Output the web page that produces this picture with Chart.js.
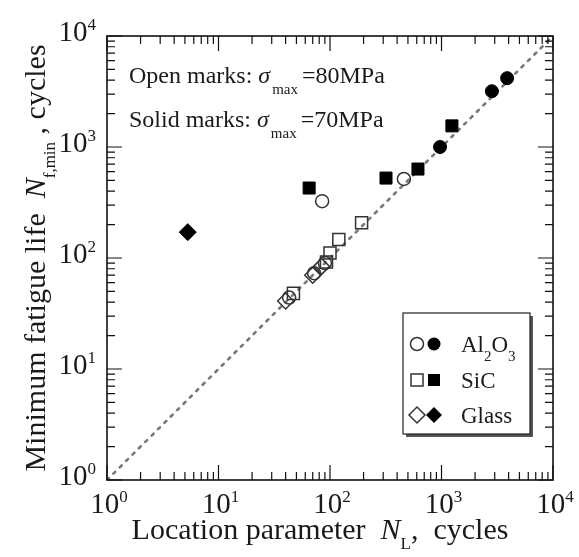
<!DOCTYPE html>
<html>
<head>
<meta charset="utf-8">
<script src="https://cdn.jsdelivr.net/npm/chart.js@4.4.1/dist/chart.umd.min.js"></script>
<style>
html, body { margin: 0; padding: 0; background: #fff; }
</style>
</head>
<body>
<canvas id="myChart" width="579" height="557"></canvas>
<script>
// axis decades (both axes are log, 10^0 .. 10^4)
var decades = [1, 10, 100, 1000, 10000];
var decadeExp = ['0', '1', '2', '3', '4'];

// open marks: sigma_max = 80 MPa
var al2o3Open = [{x: 85, y: 325}, {x: 460, y: 515}, {x: 90, y: 90}, {x: 72, y: 73}, {x: 43, y: 44}];
var sicOpen = [{x: 192, y: 208}, {x: 120, y: 147}, {x: 100, y: 111}, {x: 93, y: 92}, {x: 47, y: 48}];
var glassOpen = [{x: 84, y: 84}, {x: 70, y: 70}, {x: 40, y: 41}];

// solid marks: sigma_max = 70 MPa
var al2o3Solid = [{x: 970, y: 1000}, {x: 2830, y: 3180}, {x: 3880, y: 4170}];
var sicSolid = [{x: 65, y: 427}, {x: 318, y: 525}, {x: 615, y: 633}, {x: 1240, y: 1550}];
var glassSolid = [{x: 5.3, y: 171}];

// N_f,min = N_L line
var equalLine = [{x: 1, y: 1}, {x: 10000, y: 10000}];

var SERIF = '"Liberation Serif", "Times New Roman", serif';

// draw a row of text pieces (font / vertical shift per piece)
function drawRuns(ctx, runs, x, y, align) {
    var total = 0;
    runs.forEach(function (r) {
        ctx.font = r.font;
        r.w = ctx.measureText(r.t).width;
        total += r.w + (r.gap || 0);
    });
    var cx = x;
    if (align === 'center') cx = x - total / 2;
    if (align === 'right') cx = x - total;
    ctx.textAlign = 'left';
    ctx.textBaseline = 'alphabetic';
    runs.forEach(function (r) {
        ctx.font = r.font;
        ctx.fillText(r.t, cx, y + (r.dy || 0));
        cx += r.w + (r.gap || 0);
    });
}

function marker(ctx, style, x, y, filled) {
    ctx.beginPath();
    if (style === 'circle') {
        ctx.arc(x, y, 6.5, 0, Math.PI * 2);
    } else if (style === 'rect') {
        ctx.rect(x - 6, y - 6, 12, 12);
    } else {
        ctx.moveTo(x, y - 8); ctx.lineTo(x + 8, y); ctx.lineTo(x, y + 8); ctx.lineTo(x - 8, y); ctx.closePath();
    }
    if (filled) { ctx.fillStyle = '#000'; ctx.fill(); }
    else { ctx.strokeStyle = '#333'; ctx.lineWidth = 1.5; ctx.stroke(); }
}

var framePlugin = {
    id: 'frame',
    afterDraw: function (chart) {
        var ctx = chart.ctx;
        var a = chart.chartArea;
        var xs = chart.scales.x, ys = chart.scales.y;
        ctx.save();
        ctx.fillStyle = '#1a1a1a';
        ctx.strokeStyle = '#111';

        // frame
        ctx.lineWidth = 1.6;
        ctx.strokeRect(a.left, a.top, a.right - a.left, a.bottom - a.top);

        // inside ticks on all four sides
        ctx.lineWidth = 1.2;
        ctx.beginPath();
        for (var d = 0; d < decades.length; d++) {
            for (var m = 1; m <= 9; m++) {
                var v = decades[d] * m;
                if (v > 10000) break;
                var len = (m === 1) ? 15 : 8;
                var px = xs.getPixelForValue(v);
                var py = ys.getPixelForValue(v);
                ctx.moveTo(px, a.bottom); ctx.lineTo(px, a.bottom - len);
                ctx.moveTo(px, a.top); ctx.lineTo(px, a.top + len);
                ctx.moveTo(a.left, py); ctx.lineTo(a.left + len, py);
                ctx.moveTo(a.right, py); ctx.lineTo(a.right - len, py);
            }
        }
        ctx.stroke();

        // tick labels 10^n
        var big = '29px ' + SERIF, sup = '17px ' + SERIF;
        for (var i = 0; i < decades.length; i++) {
            var tx = xs.getPixelForValue(decades[i]);
            drawRuns(ctx, [{t: '10', font: big}, {t: decadeExp[i], font: sup, dy: -11}], tx + 2, a.bottom + 33, 'center');
            var ty = ys.getPixelForValue(decades[i]);
            drawRuns(ctx, [{t: '10', font: big}, {t: decadeExp[i], font: sup, dy: -11}], a.left - 11, ty + 5, 'right');
        }

        // x title
        var tf = '30px ' + SERIF, itf = 'italic 30px ' + SERIF, sub = '17px ' + SERIF;
        drawRuns(ctx, [
            {t: 'Location parameter  ', font: tf},
            {t: 'N', font: itf},
            {t: 'L', font: sub, dy: 10},
            {t: ',  cycles', font: tf}
        ], 320, 539, 'center');

        // y title
        ctx.save();
        ctx.translate(45, 258);
        ctx.rotate(-Math.PI / 2);
        drawRuns(ctx, [
            {t: 'Minimum fatigue life  ', font: tf},
            {t: 'N', font: itf},
            {t: 'f,min', font: sub, dy: 10},
            {t: ' , cycles', font: tf}
        ], 0, 0, 'center');
        ctx.restore();

        // annotations
        var af = '24px ' + SERIF, aif = 'italic 24px ' + SERIF, asub = '15px ' + SERIF;
        drawRuns(ctx, [
            {t: 'Open marks: ', font: af},
            {t: '\u03c3', font: aif, gap: 2},
            {t: 'max', font: asub, dy: 11, gap: 4},
            {t: '=80MPa', font: af}
        ], a.left + 22, 83, 'left');
        drawRuns(ctx, [
            {t: 'Solid marks: ', font: af},
            {t: '\u03c3', font: aif, gap: 2},
            {t: 'max', font: asub, dy: 11, gap: 4},
            {t: '=70MPa', font: af}
        ], a.left + 22, 127, 'left');

        // legend box
        var lx = 403, ly = 313, lw = 127, lh = 121;
        ctx.fillStyle = '#555';
        ctx.fillRect(lx + 3, ly + 3, lw, lh);
        ctx.fillStyle = '#fff';
        ctx.fillRect(lx, ly, lw, lh);
        ctx.lineWidth = 1.2;
        ctx.strokeStyle = '#222';
        ctx.strokeRect(lx, ly, lw, lh);

        var lf = '23px ' + SERIF, ls = '15px ' + SERIF;
        var rows = [
            {style: 'circle', y: 344, label: [{t: 'Al', font: lf}, {t: '2', font: ls, dy: 9}, {t: 'O', font: lf}, {t: '3', font: ls, dy: 9}]},
            {style: 'rect', y: 380, label: [{t: 'SiC', font: lf}]},
            {style: 'rectRot', y: 415, label: [{t: 'Glass', font: lf}]}
        ];
        rows.forEach(function (r) {
            marker(ctx, r.style, 417, r.y, false);
            marker(ctx, r.style, 434, r.y, true);
            ctx.fillStyle = '#1a1a1a';
            drawRuns(ctx, r.label, 461, r.y + 8, 'left');
        });

        ctx.restore();
    }
};

function openSet(label, data, style, r) {
    return {
        label: label, data: data, pointStyle: style, pointRadius: r, pointHoverRadius: r,
        backgroundColor: 'rgba(0,0,0,0)', borderColor: '#333', pointBorderWidth: 1.5, showLine: false
    };
}
function solidSet(label, data, style, r) {
    return {
        label: label, data: data, pointStyle: style, pointRadius: r, pointHoverRadius: r,
        backgroundColor: '#000', borderColor: '#000', pointBorderWidth: 1, showLine: false
    };
}

var ctx = document.getElementById('myChart');
var chart = new Chart(ctx, {
    type: 'scatter',
    data: {
        datasets: [
            {
                label: 'N_f,min = N_L', data: equalLine, showLine: true, pointRadius: 0,
                borderColor: '#777', borderWidth: 2.6, borderDash: [2.6, 6.4], borderCapStyle: 'round', order: 10
            },
            openSet('Al2O3 80MPa', al2o3Open, 'circle', 6.5),
            openSet('SiC 80MPa', sicOpen, 'rect', 8.5),
            openSet('Glass 80MPa', glassOpen, 'rectRot', 8),
            solidSet('Al2O3 70MPa', al2o3Solid, 'circle', 6.5),
            solidSet('SiC 70MPa', sicSolid, 'rect', 8.5),
            solidSet('Glass 70MPa', glassSolid, 'rectRot', 8.5)
        ]
    },
    options: {
        responsive: false,
        animation: false,
        layout: { padding: { left: 107, top: 36, right: 26, bottom: 77 } },
        plugins: {
            legend: { display: false },
            tooltip: { enabled: false }
        },
        scales: {
            x: { type: 'logarithmic', min: 1, max: 10000, display: false },
            y: { type: 'logarithmic', min: 1, max: 10000, display: false }
        }
    },
    plugins: [framePlugin]
});
</script>
</body>
</html>
